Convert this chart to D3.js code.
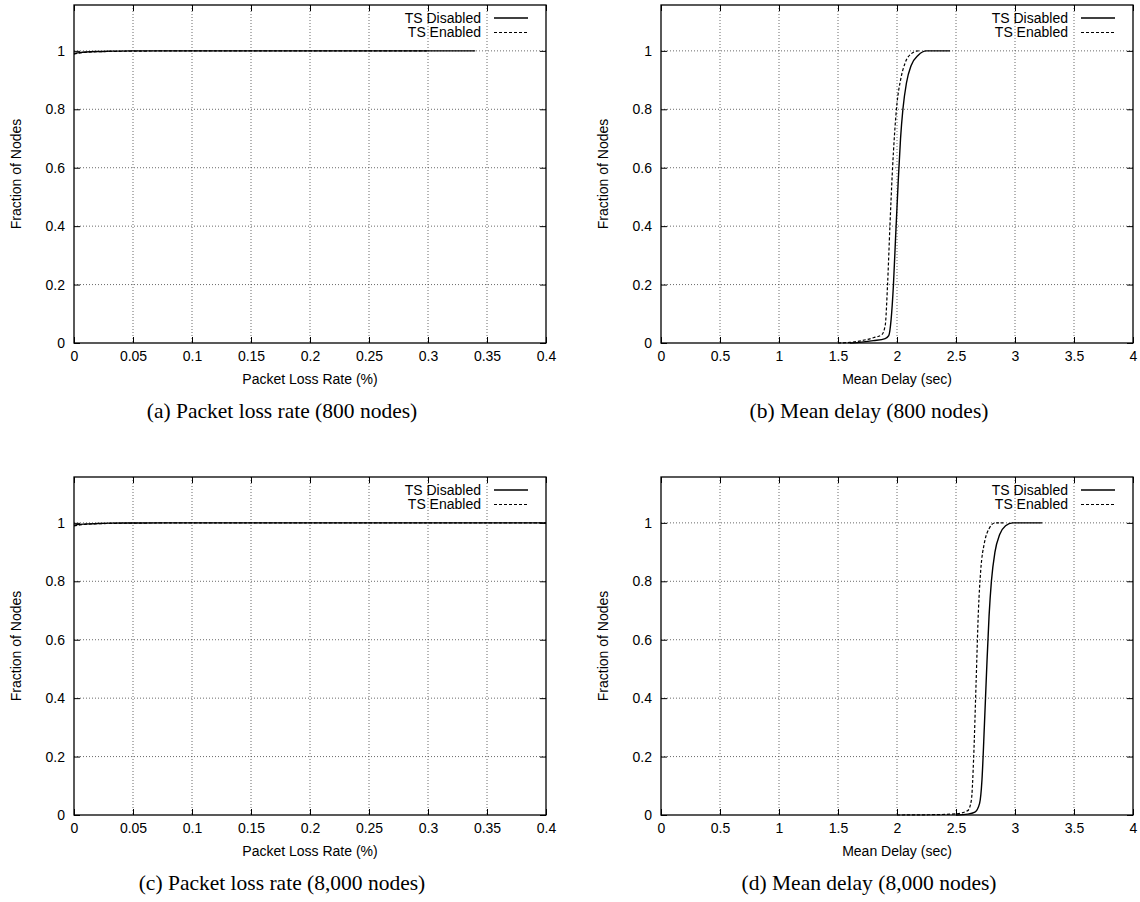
<!DOCTYPE html>
<html>
<head>
<meta charset="utf-8">
<script src="https://cdn.jsdelivr.net/npm/d3@7"></script>
<style>
  html, body { margin: 0; padding: 0; background: #fff; }
  svg { display: block; }
</style>
</head>
<body>
<svg id="fig" width="1140" height="902"></svg>
<script>
// CDF samples for each panel: x values and cumulative fraction of nodes
const lossTicks = [0, 0.05, 0.1, 0.15, 0.2, 0.25, 0.3, 0.35, 0.4];
const delayTicks = [0, 0.5, 1, 1.5, 2, 2.5, 3, 3.5, 4];
const fracTicks = [0, 0.2, 0.4, 0.6, 0.8, 1];

// (a) packet loss rate, 800 nodes
const lossA_x_dis = [0, 0.005, 0.01, 0.02, 0.03, 0.05, 0.1, 0.2, 0.34];
const lossA_y_dis = [0.991, 0.994, 0.996, 0.998, 0.999, 1, 1, 1, 1];
const lossA_x_en = [0, 0.005, 0.01, 0.02, 0.03, 0.05, 0.1, 0.2, 0.3];
const lossA_y_en = [0.989, 0.993, 0.995, 0.997, 0.998, 0.999, 1, 1, 1];

// (b) mean delay, 800 nodes
const delayB_x_dis = [1.6, 1.7, 1.8, 1.9, 1.93, 1.95, 1.97, 1.99, 2.01, 2.03, 2.05, 2.08, 2.12, 2.18, 2.25, 2.45];
const delayB_y_dis = [0, 0.003, 0.008, 0.015, 0.025, 0.08, 0.2, 0.38, 0.55, 0.7, 0.8, 0.89, 0.95, 0.985, 1, 1];
const delayB_x_en = [1.5, 1.6, 1.7, 1.8, 1.87, 1.9, 1.92, 1.94, 1.96, 1.98, 2.0, 2.03, 2.07, 2.12, 2.18, 2.2];
const delayB_y_en = [0, 0.002, 0.008, 0.018, 0.028, 0.06, 0.2, 0.4, 0.58, 0.72, 0.82, 0.9, 0.96, 0.99, 1, 1];

// (c) packet loss rate, 8,000 nodes
const lossC_x_dis = [0, 0.005, 0.01, 0.02, 0.03, 0.05, 0.1, 0.2, 0.3, 0.4];
const lossC_y_dis = [0.992, 0.995, 0.996, 0.998, 0.999, 0.9995, 1, 1, 1, 1];
const lossC_x_en = [0, 0.005, 0.01, 0.02, 0.03, 0.05, 0.1, 0.2, 0.3, 0.4];
const lossC_y_en = [0.99, 0.993, 0.995, 0.997, 0.998, 0.999, 1, 1, 1, 1];

// (d) mean delay, 8,000 nodes
const delayD_x_dis = [2.5, 2.6, 2.66, 2.7, 2.72, 2.74, 2.76, 2.78, 2.8, 2.83, 2.87, 2.92, 2.98, 3.23];
const delayD_y_dis = [0, 0.003, 0.01, 0.04, 0.12, 0.3, 0.5, 0.68, 0.8, 0.9, 0.96, 0.99, 1, 1];
const delayD_x_en = [2.0, 2.3, 2.5, 2.6, 2.63, 2.65, 2.67, 2.69, 2.71, 2.74, 2.78, 2.83, 2.9];
const delayD_y_en = [0, 0.001, 0.004, 0.015, 0.05, 0.2, 0.45, 0.7, 0.84, 0.93, 0.98, 1, 1];

const seriesNames = ["TS Disabled", "TS Enabled"];
const xLabels = ["Packet Loss Rate (%)", "Mean Delay (sec)"];
const yLabel = "Fraction of Nodes";
const captions = [
  "(a) Packet loss rate (800 nodes)",
  "(b) Mean delay (800 nodes)",
  "(c) Packet loss rate (8,000 nodes)",
  "(d) Mean delay (8,000 nodes)"
];

const zip = (xs, ys) => xs.map((x, i) => [x, ys[i]]);

const panels = [
  { left: 74, top: 5, xMax: 0.4, ticks: lossTicks, xl: xLabels[0], cap: captions[0],
    dis: zip(lossA_x_dis, lossA_y_dis), en: zip(lossA_x_en, lossA_y_en) },
  { left: 661, top: 5, xMax: 4, ticks: delayTicks, xl: xLabels[1], cap: captions[1],
    dis: zip(delayB_x_dis, delayB_y_dis), en: zip(delayB_x_en, delayB_y_en) },
  { left: 74, top: 477, xMax: 0.4, ticks: lossTicks, xl: xLabels[0], cap: captions[2],
    dis: zip(lossC_x_dis, lossC_y_dis), en: zip(lossC_x_en, lossC_y_en) },
  { left: 661, top: 477, xMax: 4, ticks: delayTicks, xl: xLabels[1], cap: captions[3],
    dis: zip(delayD_x_dis, delayD_y_dis), en: zip(delayD_x_en, delayD_y_en) }
];

const W = 472, H = 338, yTop = 1.157;
const svg = d3.select("#fig");
const sans = "'Liberation Sans', Arial, Helvetica, sans-serif";
const serif = "'Liberation Serif', 'Times New Roman', serif";
const fs = 14;

panels.forEach(p => {
  const g = svg.append("g").attr("transform", `translate(${p.left},${p.top})`);
  const x = d3.scaleLinear().domain([0, p.xMax]).range([0, W]);
  const y = d3.scaleLinear().domain([0, yTop]).range([H, 0]);

  // dotted grid
  const grid = g.append("g").attr("stroke", "#444").attr("stroke-width", 0.8)
    .attr("stroke-dasharray", "1,2");
  p.ticks.slice(1, -1).forEach(t => {
    grid.append("line").attr("x1", x(t)).attr("x2", x(t)).attr("y1", 0).attr("y2", H);
  });
  fracTicks.slice(1).forEach(t => {
    grid.append("line").attr("x1", 0).attr("x2", W).attr("y1", y(t)).attr("y2", y(t));
  });

  // axes with inward ticks, mirrored on top and right
  const tl = 6;
  const ax = g.append("g").attr("transform", `translate(0,${H})`)
    .call(d3.axisBottom(x).tickValues(p.ticks).tickFormat(d3.format("")).tickSizeInner(-tl).tickSizeOuter(0).tickPadding(8));
  const axTop = g.append("g")
    .call(d3.axisTop(x).tickValues(p.ticks).tickFormat("").tickSizeInner(-tl).tickSizeOuter(0));
  const ay = g.append("g")
    .call(d3.axisLeft(y).tickValues(fracTicks).tickFormat(d3.format("")).tickSizeInner(-tl).tickSizeOuter(0).tickPadding(9));
  const ayR = g.append("g").attr("transform", `translate(${W},0)`)
    .call(d3.axisRight(y).tickValues(fracTicks).tickFormat("").tickSizeInner(-tl).tickSizeOuter(0));
  [ax, axTop, ay, ayR].forEach(a => {
    a.select(".domain").remove();
    a.selectAll("line").attr("stroke", "#000").attr("stroke-width", 1);
    a.selectAll("text").attr("font-family", sans).attr("font-size", fs).attr("fill", "#000");
  });

  // frame
  g.append("rect").attr("x", 0).attr("y", 0).attr("width", W).attr("height", H)
    .attr("fill", "none").attr("stroke", "#000").attr("stroke-width", 1.3);

  // curves
  const line = d3.line().x(d => x(d[0])).y(d => y(d[1])).curve(d3.curveMonotoneX);
  g.append("path").datum(p.en).attr("d", line).attr("fill", "none")
    .attr("stroke", "#000").attr("stroke-width", 1.2).attr("stroke-dasharray", "3,2");
  g.append("path").datum(p.dis).attr("d", line).attr("fill", "none")
    .attr("stroke", "#000").attr("stroke-width", 1.4);

  // legend
  const leg = g.append("g");
  seriesNames.forEach((name, i) => {
    const ly = 13 + i * 14.5;
    leg.append("text").attr("x", W - 65).attr("y", ly).attr("dy", "0.35em")
      .attr("text-anchor", "end").attr("font-family", sans).attr("font-size", fs)
      .text(name);
    leg.append("line").attr("x1", W - 52).attr("x2", W - 18).attr("y1", ly).attr("y2", ly)
      .attr("stroke", "#000").attr("stroke-width", i === 0 ? 1.4 : 1.2)
      .attr("stroke-dasharray", i === 0 ? null : "3,2");
  });

  // axis titles
  g.append("text").attr("x", W / 2).attr("y", H + 36).attr("dy", "0.35em")
    .attr("text-anchor", "middle").attr("font-family", sans).attr("font-size", fs)
    .text(p.xl);
  g.append("text").attr("transform", `translate(${-58},${H / 2}) rotate(-90)`)
    .attr("dy", "0.35em").attr("text-anchor", "middle")
    .attr("font-family", sans).attr("font-size", fs).text(yLabel);

  // caption
  g.append("text").attr("x", W / 2 - 28).attr("y", H + 67).attr("dy", "0.35em")
    .attr("text-anchor", "middle").attr("font-family", serif).attr("font-size", 21.5)
    .text(p.cap);
});
</script>
</body>
</html>
